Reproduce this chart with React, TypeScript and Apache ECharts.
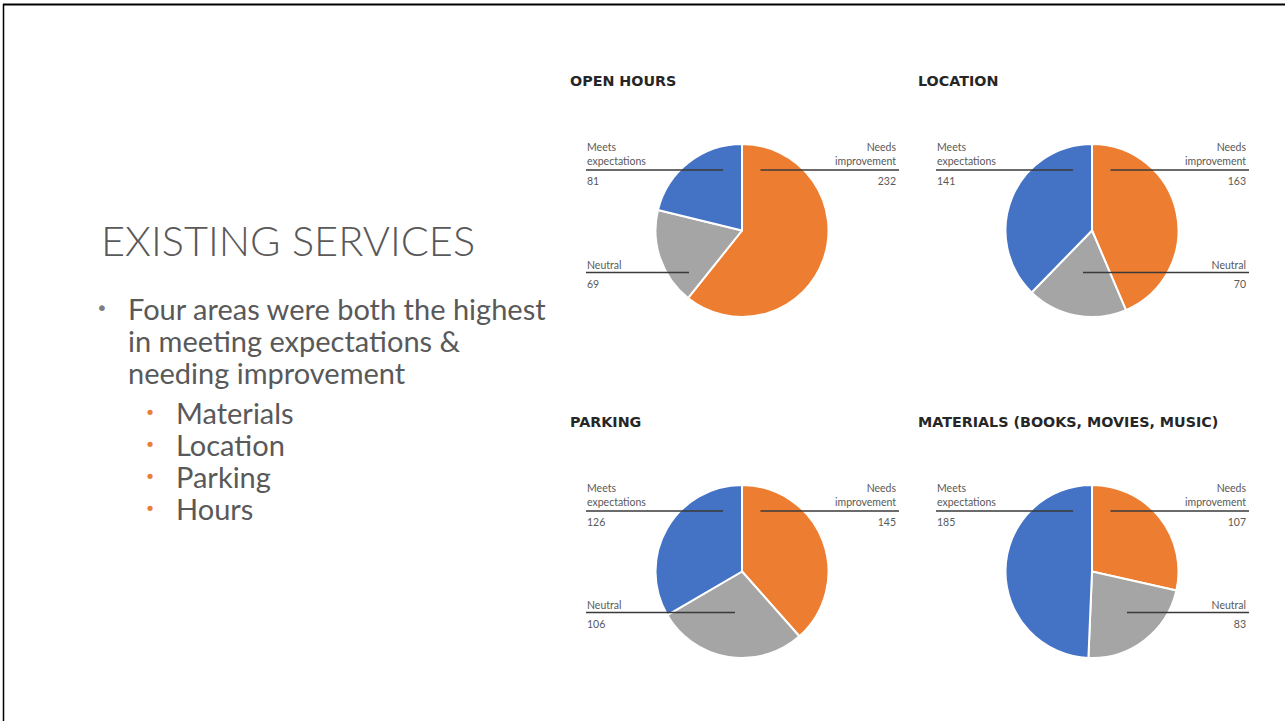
import React, { useEffect, useRef } from "react";
import * as echarts from "echarts";

// ---- data ----
const CATEGORIES = ["Needs improvement", "Neutral", "Meets expectations"];
const CHART_TITLES = ["OPEN HOURS", "LOCATION", "PARKING", "MATERIALS (BOOKS, MOVIES, MUSIC)"];
const OPEN_HOURS = [232, 69, 81];
const LOCATION = [163, 70, 141];
const PARKING = [145, 106, 126];
const MATERIALS = [107, 83, 185];
const SERIES_VALUES = [OPEN_HOURS, LOCATION, PARKING, MATERIALS];

const HEADING = "EXISTING SERVICES";
const MAIN_BULLET_LINES = ["Four areas were both the highest", "in meeting expectations &", "needing improvement"];
const SUB_BULLETS = ["Materials", "Location", "Parking", "Hours"];

// ---- layout / style ----
const COLORS = ["#ED7D31", "#A5A5A5", "#4472C4"];
const PIE_CENTERS = [
  [742, 230.5],
  [1092, 230.5],
  [742, 571.5],
  [1092, 571.5],
];
const PIE_RADIUS = 86.5;
const NEUTRAL_LABEL = [
  { side: "left", dy: 42, inner: -53 },
  { side: "right", dy: 42, inner: -9 },
  { side: "left", dy: 41, inner: -7 },
  { side: "right", dy: 41, inner: 35 },
];
const TITLE_POS = [
  [570, 81],
  [918, 81],
  [570, 422],
  [918, 422],
];
const LABEL_FONT = "Lato, 'DejaVu Sans', sans-serif";
const TEXT_COLOR = "#595959";
const LABEL_SIZE = 10.5;
const LEADER = { stroke: "#3a3a3a", lineWidth: 1.4 };

// label geometry (relative to each pie's centre)
function labelGeom(si: number, di: number) {
  const [cx, cy] = PIE_CENTERS[si];
  if (di === 0) {
    const ly = cy - 60.5;
    return { side: "right", ly, top: ly - 30, x1: cx + 18.5, x2: cx + 157, tx: cx + 154 };
  }
  if (di === 2) {
    const ly = cy - 60.5;
    return { side: "left", ly, top: ly - 30, x1: cx - 19, x2: cx - 156, tx: cx - 155 };
  }
  const nl = NEUTRAL_LABEL[si];
  const ly = cy + nl.dy;
  return nl.side === "left"
    ? { side: "left", ly, top: ly - 14.5, x1: cx + nl.inner, x2: cx - 156, tx: cx - 155 }
    : { side: "right", ly, top: ly - 14.5, x1: cx + nl.inner, x2: cx + 157, tx: cx + 154 };
}

export default function App() {
  const ref = useRef<HTMLDivElement>(null);

  useEffect(() => {
    if (!ref.current) return;
    const chart = echarts.init(ref.current, undefined, { renderer: "svg" });

    const series = SERIES_VALUES.map((vals, si) => ({
      type: "pie",
      center: [PIE_CENTERS[si][0], PIE_CENTERS[si][1]],
      radius: PIE_RADIUS,
      startAngle: 90,
      clockwise: true,
      avoidLabelOverlap: false,
      silent: true,
      itemStyle: { borderColor: "#ffffff", borderWidth: 2 },
      emphasis: { disabled: true },
      data: CATEGORIES.map((name, i) => ({
        name,
        value: vals[i],
        itemStyle: { color: COLORS[i] },
      })),
      label: {
        show: true,
        position: "outside",
        fontFamily: LABEL_FONT,
        color: TEXT_COLOR,
        formatter: (p: any) => {
          const words = String(p.name).split(" ");
          const vStyle = p.name === "Neutral" ? "v2" : "v";
          return words.map((w) => `{n|${w}}`).join("\n") + `\n{${vStyle}|${p.value}}`;
        },
        rich: {
          n: { fontSize: LABEL_SIZE, lineHeight: 14, color: TEXT_COLOR, fontFamily: LABEL_FONT },
          v: { fontSize: LABEL_SIZE, lineHeight: 26, color: TEXT_COLOR, fontFamily: LABEL_FONT },
          v2: { fontSize: LABEL_SIZE, lineHeight: 24, color: TEXT_COLOR, fontFamily: LABEL_FONT },
        },
      },
      labelLine: { show: false },
      labelLayout: (params: any) => {
        const g = labelGeom(si, params.dataIndex);
        return { x: g.tx, y: g.top, align: g.side, verticalAlign: "top" };
      },
    }));

    const graphics: any[] = [
      { type: "line", shape: { x1: 3, y1: 4.5, x2: 1285, y2: 4.5 }, style: { stroke: "#000", lineWidth: 2 } },
      { type: "line", shape: { x1: 3.5, y1: 4, x2: 3.5, y2: 721 }, style: { stroke: "#000", lineWidth: 1.5 } },
      {
        type: "text",
        x: 101,
        y: 240,
        style: {
          text: HEADING,
          font: "300 41.5px Lato, 'DejaVu Sans', sans-serif",
          fill: TEXT_COLOR,
          verticalAlign: "middle",
          align: "left",
        },
      },
      {
        type: "text",
        x: 102,
        y: 308,
        style: { text: "•", font: "20px 'DejaVu Sans', sans-serif", fill: "#7f7f7f", verticalAlign: "middle", align: "center" },
      },
    ];
    MAIN_BULLET_LINES.forEach((t, i) => {
      graphics.push({
        type: "text",
        x: 128,
        y: 308 + i * 32,
        style: { text: t, font: "29px Lato, 'DejaVu Sans', sans-serif", fill: TEXT_COLOR, verticalAlign: "middle", align: "left" },
      });
    });
    SUB_BULLETS.forEach((t, i) => {
      graphics.push({
        type: "text",
        x: 150,
        y: 412 + i * 32,
        style: { text: "•", font: "18px 'DejaVu Sans', sans-serif", fill: "#ED7D31", verticalAlign: "middle", align: "center" },
      });
      graphics.push({
        type: "text",
        x: 176,
        y: 412 + i * 32,
        style: { text: t, font: "29px Lato, 'DejaVu Sans', sans-serif", fill: TEXT_COLOR, verticalAlign: "middle", align: "left" },
      });
    });
    CHART_TITLES.forEach((t, i) => {
      graphics.push({
        type: "text",
        x: TITLE_POS[i][0],
        y: TITLE_POS[i][1],
        style: {
          text: t,
          font: "bold 14.3px 'DejaVu Sans', sans-serif",
          fill: "#262626",
          verticalAlign: "middle",
          align: "left",
        },
      });
    });
    // leader lines drawn above the slices
    SERIES_VALUES.forEach((_, si) => {
      CATEGORIES.forEach((__, di) => {
        const g = labelGeom(si, di);
        graphics.push({
          type: "line",
          z: 100,
          silent: true,
          shape: { x1: g.x1, y1: g.ly, x2: g.x2, y2: g.ly },
          style: LEADER,
        });
      });
    });

    chart.setOption({
      animation: false,
      backgroundColor: "#ffffff",
      series,
      graphic: graphics,
    });

    return () => chart.dispose();
  }, []);

  return (
    <div
      ref={ref}
      style={{ position: "fixed", left: 0, top: 0, width: 1285, height: 721, background: "#fff" }}
    />
  );
}
